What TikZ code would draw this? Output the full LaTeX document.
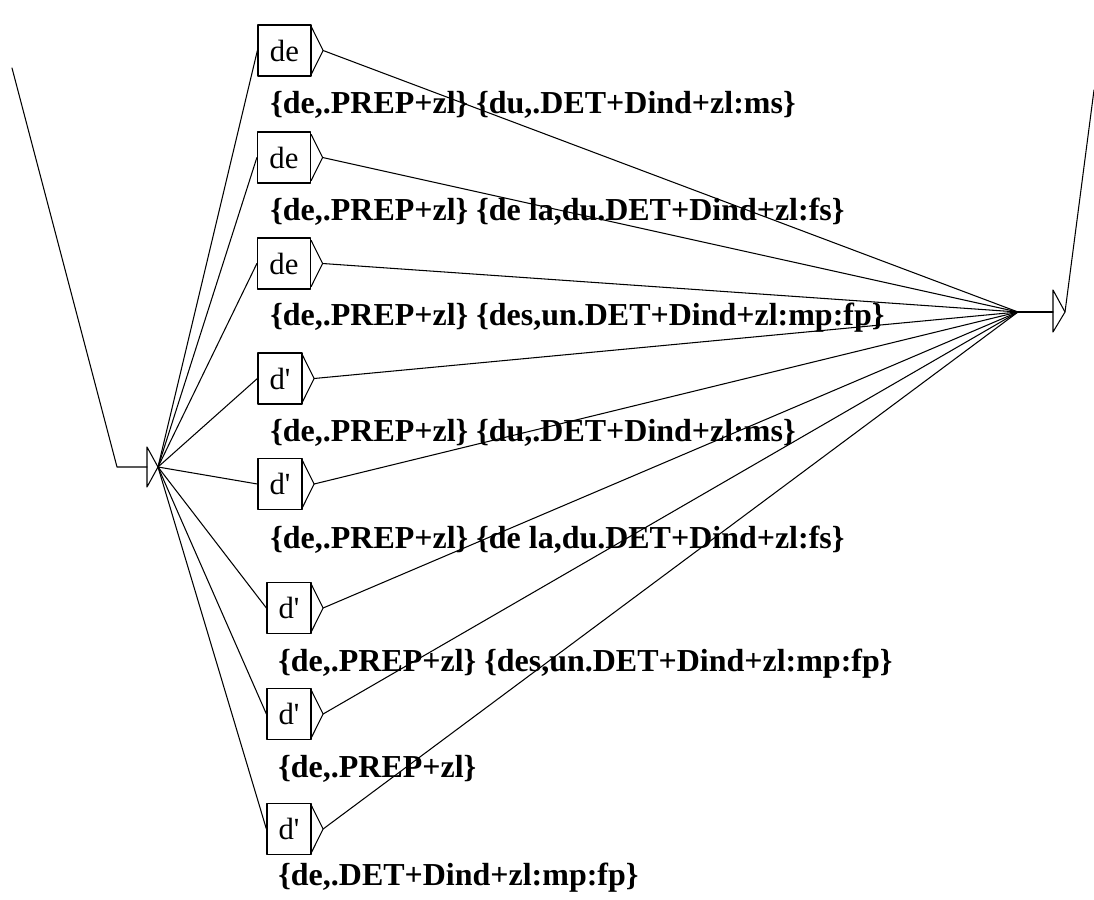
\documentclass[tikz,border=0pt]{standalone}
\usepackage{fontspec}
\setmainfont{Liberation Serif}
\tikzset{
  every picture/.style={
    line join=round,
    line cap=round,
  },
  wire/.style={line width=0.6pt},
  box/.style={draw, line width=0.7pt, minimum height=1.02cm, inner sep=0pt,
    font=\fontsize{17.5}{20}\selectfont},
  widebox/.style={box, minimum width=1.06cm},
  slimbox/.style={box, minimum width=0.88cm},
  output/.style={anchor=west, inner sep=0pt,
    font=\fontsize{18.2}{20}\selectfont\bfseries},
}
\newcommand{\apos}{d\textquotesingle}

\begin{document}
\begin{tikzpicture}[x=0.02cm,y=-0.02cm]
\useasboundingbox (0,0) rectangle (1094,899);
% initial and final states
\coordinate (src) at (12,68);
\coordinate (knee) at (117,467);
\coordinate (inback) at (147,467);
\coordinate (init) at (158,467);
\coordinate (hub) at (1018,312);
\coordinate (finback) at (1053,312);
\coordinate (final) at (1065,312);
\coordinate (dst) at (1094,90);
\draw[wire] (147,447) -- (init) -- (147,487) -- cycle;
\draw[wire] (1053,290) -- (final) -- (1053,332) -- cycle;
\draw[wire] (src) -- (knee) -- (inback);
\draw[wire] (hub) -- (finback);
\draw[wire] (final) -- (dst);
% boxes
\node[widebox](b1) at (284.5,50.5){de};
\node[widebox](b2) at (284,157.5){de};
\node[widebox](b3) at (284,263.5){de};
\node[slimbox](b4) at (280,378.5){\apos};
\node[slimbox](b5) at (280,484){\apos};
\node[slimbox](b6) at (289,608){\apos};
\node[slimbox](b7) at (289,714){\apos};
\node[slimbox](b8) at (289,829){\apos};
% outputs
\node[output](o1) at (270,105){\{de,.PREP+zl\} \{du,.DET+Dind+zl:ms\}};
\node[output](o2) at (270,212){\{de,.PREP+zl\} \{de la,du.DET+Dind+zl:fs\}};
\node[output](o3) at (270,318){\{de,.PREP+zl\} \{des,un.DET+Dind+zl:mp:fp\}};
\node[output](o4) at (270,433){\{de,.PREP+zl\} \{du,.DET+Dind+zl:ms\}};
\node[output](o5) at (270,540){\{de,.PREP+zl\} \{de la,du.DET+Dind+zl:fs\}};
\node[output](o6) at (278,664){\{de,.PREP+zl\} \{des,un.DET+Dind+zl:mp:fp\}};
\node[output](o7) at (278,769){\{de,.PREP+zl\}};
\node[output](o8) at (278,878){\{de,.DET+Dind+zl:mp:fp\}};
% transitions
\foreach \i in {1,...,8}{
  \draw[wire] ([yshift=-0.06cm]b\i.north east) -- ([xshift=0.23cm]b\i.east)
    coordinate (tip\i) -- ([yshift=0.06cm]b\i.south east);
  \draw[wire] (init) -- (b\i.west);
  \draw[wire] (tip\i) -- (hub);
}
\end{tikzpicture}
\end{document}
